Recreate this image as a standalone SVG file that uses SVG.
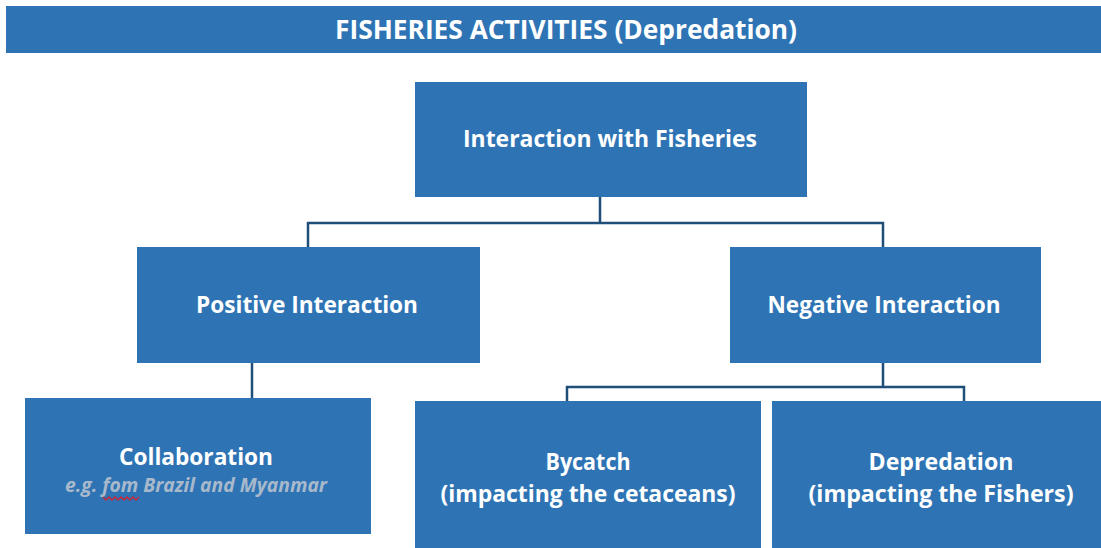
<svg xmlns="http://www.w3.org/2000/svg" width="1101" height="548" viewBox="0 0 1101 548">
<style>
.box{fill:#2e74b5}
.t{font-family:"Open Sans","Liberation Sans",sans-serif;font-weight:bold;fill:#ffffff;text-anchor:middle;font-size:24px}
.sub{font-family:"Open Sans","Liberation Sans",sans-serif;font-weight:bold;font-style:italic;fill:#a9b9cc;text-anchor:middle;font-size:19px}
.c{fill:none;stroke:#1f4e79;stroke-width:2.5}
</style>
<rect width="1101" height="548" fill="#ffffff"/>
<g id="header">
<rect class="box" x="6" y="6" width="1095" height="47"/>
<text class="t" x="566" y="39" style="font-size:26px" textLength="462" lengthAdjust="spacingAndGlyphs">FISHERIES ACTIVITIES (Depredation)</text>
</g>
<g id="connectors">
<path class="c" d="M600,197 V223 M308,247 V223 H883 V247"/>
<path class="c" d="M252,363 V398"/>
<path class="c" d="M883,363 V387 M567,401 V387 H964 V401"/>
</g>
<g id="interaction">
<rect class="box" x="415" y="82" width="392" height="115"/>
<text class="t" x="610" y="147" textLength="294" lengthAdjust="spacingAndGlyphs">Interaction with Fisheries</text>
</g>
<g id="positive">
<rect class="box" x="137" y="247" width="343" height="116"/>
<text class="t" x="307" y="313" textLength="222" lengthAdjust="spacingAndGlyphs">Positive Interaction</text>
</g>
<g id="negative">
<rect class="box" x="730" y="247" width="311" height="116"/>
<text class="t" x="884" y="313" textLength="233" lengthAdjust="spacingAndGlyphs">Negative Interaction</text>
</g>
<g id="collaboration">
<rect class="box" x="25" y="398" width="346" height="136"/>
<text class="t" x="196" y="465" textLength="154" lengthAdjust="spacingAndGlyphs">Collaboration</text>
<text class="sub" x="196" y="492" textLength="262" lengthAdjust="spacingAndGlyphs">e.g. fom Brazil and Myanmar</text>
<polyline points="103,497 106,500 109,497 112,500 115,497 118,500 121,497 124,500 127,497 130,500 133,497 136,500 139,497" fill="none" stroke="#d3212d" stroke-width="1.3"/>
</g>
<g id="bycatch">
<rect class="box" x="415" y="401" width="346" height="147"/>
<text class="t" x="588" y="470" textLength="85" lengthAdjust="spacingAndGlyphs">Bycatch</text>
<text class="t" x="588" y="502" textLength="295" lengthAdjust="spacingAndGlyphs">(impacting the cetaceans)</text>
</g>
<g id="depredation">
<rect class="box" x="772" y="401" width="329" height="147"/>
<text class="t" x="941" y="470" textLength="145" lengthAdjust="spacingAndGlyphs">Depredation</text>
<text class="t" x="941" y="502" textLength="265" lengthAdjust="spacingAndGlyphs">(impacting the Fishers)</text>
</g>
</svg>
